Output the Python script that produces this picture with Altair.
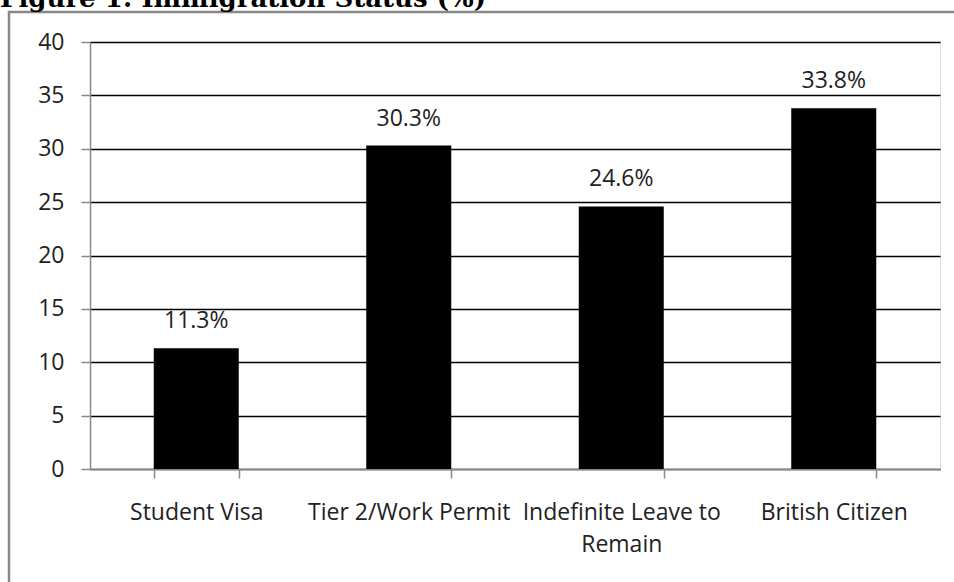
import altair as alt
import pandas as pd

categories = ["Student Visa", "Tier 2/Work Permit", "Indefinite Leave to Remain", "British Citizen"]
values = [11.3, 30.3, 24.6, 33.8]
labels = ["11.3%", "30.3%", "24.6%", "33.8%"]
y_ticks = [0, 5, 10, 15, 20, 25, 30, 35, 40]
title_text = "Figure 1: Immigration Status (%)"

df = pd.DataFrame({"cat": categories, "val": values, "lab": labels})

FONT = "Open Sans"
FS = 23

x_enc = alt.X("cat:N", sort=categories, title=None,
              scale=alt.Scale(paddingInner=0.6, paddingOuter=0.3),
              axis=alt.Axis(labelAngle=0, labelFont=FONT, labelFontSize=FS, labelColor="#222",
                            labelOverlap=False, labelLimit=400, labelPadding=23,
                            labelExpr="datum.label == 'Indefinite Leave to Remain' ? ['Indefinite Leave to', 'Remain'] : datum.label",
                            labelLineHeight=32,
                            domainColor="#888", domainWidth=1.5, tickColor="#888", tickWidth=1.5,
                            tickSize=9, tickBand="extent", grid=False))
y_enc = alt.Y("val:Q", title=None,
              scale=alt.Scale(domain=[0, 40], nice=False),
              axis=alt.Axis(values=y_ticks, labelFont=FONT, labelFontSize=FS, labelColor="#222",
                            labelPadding=17, domainColor="#888", domainWidth=1.5,
                            tickColor="#888", tickWidth=1.5, tickSize=9,
                            grid=True, gridColor="#000", gridWidth=1.3))

bars = alt.Chart(df).mark_bar(color="#000").encode(x=x_enc, y=y_enc)
text = alt.Chart(df).mark_text(font=FONT, fontSize=FS, color="#222", baseline="alphabetic", dy=-20).encode(
    x=alt.X("cat:N", sort=categories), y="val:Q", text="lab:N")

border = alt.Chart(pd.DataFrame({"a": [0]})).mark_rect(
    fill=None, stroke="#888", strokeWidth=2.5).encode(
    x=alt.value(-81), x2=alt.value(1000), y=alt.value(-30), y2=alt.value(700))

title = alt.Chart(pd.DataFrame({"t": [title_text]})).mark_text(
    font="DejaVu Serif", fontWeight="bold", fontSize=26, align="left", baseline="alphabetic",
    color="#000").encode(x=alt.value(-90), y=alt.value(-35), text="t:N")

chart = alt.layer(border, bars, text, title).properties(
    width=850, height=427,
    autosize=alt.AutoSizeParams(type="none"),
    padding={"left": 90, "top": 42, "right": 14, "bottom": 113},
).configure_view(stroke=None).configure(background="white")

chart.save("out.html", embed_options={"renderer": "svg", "actions": False})
